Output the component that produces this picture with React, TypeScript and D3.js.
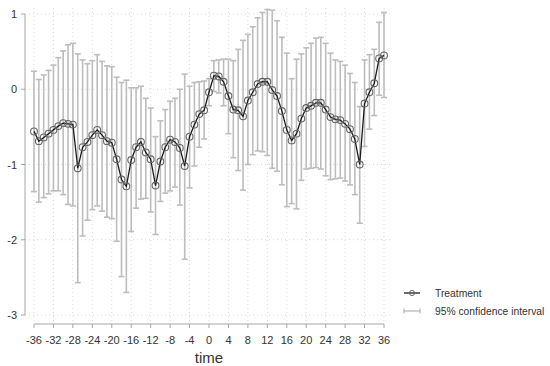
import React from "react";
import * as d3 from "d3";

// Event time relative to treatment
const times: number[] = d3.range(-36, 37);

// Point estimates of the treatment effect
const estimate: number[] = [
  -0.56, -0.69, -0.64, -0.59, -0.54, -0.49, -0.45, -0.46, -0.47, -1.05,
  -0.77, -0.70, -0.61, -0.54, -0.61, -0.69, -0.71, -0.93, -1.20, -1.29,
  -0.94, -0.77, -0.70, -0.84, -0.93, -1.28, -0.96, -0.77, -0.67, -0.70,
  -0.78, -1.02, -0.63, -0.47, -0.33, -0.28, -0.04, 0.18, 0.17, 0.10,
  -0.09, -0.27, -0.28, -0.36, -0.15, -0.04, 0.07, 0.10, 0.10, -0.01,
  -0.09, -0.29, -0.54, -0.68, -0.59, -0.39, -0.25, -0.22, -0.18, -0.18,
  -0.27, -0.37, -0.40, -0.41, -0.46, -0.53, -0.66, -1.00, -0.19, -0.04,
  0.08, 0.41, 0.45,
];

// Upper bound of the 95% confidence interval
const upper: number[] = [
  0.24, 0.13, 0.19, 0.25, 0.32, 0.42, 0.51, 0.59, 0.61, 0.47,
  0.39, 0.34, 0.38, 0.46, 0.37, 0.31, 0.30, 0.16, 0.09, 0.12,
  0.02, 0.02, 0.04, -0.12, -0.25, -0.63, -0.42, -0.27, -0.16, -0.12,
  0.0, 0.20, 0.04, 0.09, 0.10, 0.11, 0.14, 0.38, 0.39, 0.40,
  0.40, 0.38, 0.53, 0.65, 0.73, 0.83, 0.95, 1.02, 1.06, 1.05,
  0.91, 0.69, 0.48, 0.14, 0.40, 0.47, 0.55, 0.61, 0.68, 0.69,
  0.61, 0.48, 0.39, 0.37, 0.32, 0.21, 0.09, -0.23, 0.39, 0.46,
  0.53, 0.89, 1.02,
];

// Lower bound of the 95% confidence interval
const lower: number[] = [
  -1.36, -1.50, -1.44, -1.39, -1.35, -1.35, -1.40, -1.53, -1.55, -2.57,
  -1.95, -1.74, -1.60, -1.55, -1.62, -1.70, -1.72, -2.02, -2.49, -2.70,
  -1.89, -1.58, -1.46, -1.45, -1.63, -1.93, -1.49, -1.38, -1.35, -1.30,
  -1.54, -2.26, -1.31, -1.02, -0.77, -0.66, -0.22, -0.03, -0.05, -0.22,
  -0.59, -0.91, -1.08, -1.34, -1.00, -0.87, -0.82, -0.83, -0.88, -1.05,
  -1.09, -1.27, -1.56, -1.52, -1.59, -1.21, -1.06, -1.05, -1.04, -1.06,
  -1.15, -1.20, -1.19, -1.18, -1.22, -1.27, -1.40, -1.78, -0.76, -0.53,
  -0.35, -0.08, -0.11,
];

const xTicks: number[] = d3.range(-36, 37, 4);
const yTicks: number[] = [-3, -2, -1, 0, 1];
const seriesLabel = "Treatment";
const ciLabel = "95% confidence interval";
const xTitle = "time";

const W = 550;
const H = 366;
const FONT = "'Liberation Sans', Arial, Helvetica, sans-serif";

export default function App() {
  const x = d3.scaleLinear().domain([-36, 36]).range([34, 384]);
  const y = d3.scaleLinear().domain([-3, 1]).range([315, 14]);

  const rows = times.map((t, i) => ({
    t,
    est: estimate[i],
    lo: lower[i],
    hi: upper[i],
  }));

  const line = d3
    .line<{ t: number; est: number }>()
    .x((d) => x(d.t))
    .y((d) => y(d.est));

  const gridLeft = 25;
  const gridRight = 391;
  const gridTop = 8;
  const axisY = 324;
  const axisX = 25;
  const cap = 3;

  const ciColor = "#bdbdbd";
  const ptColor = "#666666";
  const gridColor = "#d9d9d9";
  const axisColor = "#a6a6a6";
  const textColor = "#333333";

  const legX = 404;
  const legY1 = 293;
  const legY2 = 311;
  const legFont = 10.3;

  return (
    <div style={{ position: "absolute", left: 0, top: 0 }}>
      <svg width={W} height={H} style={{ display: "block", background: "#fff" }}>
        {/* grid */}
        <g stroke={gridColor} strokeWidth={1} strokeDasharray="1,3">
          {yTicks.map((v) => (
            <line key={"gy" + v} x1={gridLeft} x2={gridRight} y1={y(v)} y2={y(v)} />
          ))}
          {xTicks.map((v) => (
            <line key={"gx" + v} x1={x(v)} x2={x(v)} y1={gridTop} y2={axisY - 2} />
          ))}
        </g>

        {/* confidence intervals */}
        <g stroke={ciColor} strokeWidth={1.6} fill="none">
          {rows.map((d) => (
            <g key={"ci" + d.t}>
              <line x1={x(d.t)} x2={x(d.t)} y1={y(d.hi)} y2={y(d.lo)} />
              <line x1={x(d.t) - cap} x2={x(d.t) + cap} y1={y(d.hi)} y2={y(d.hi)} />
              <line x1={x(d.t) - cap} x2={x(d.t) + cap} y1={y(d.lo)} y2={y(d.lo)} />
            </g>
          ))}
        </g>

        {/* estimate line and markers */}
        <path d={line(rows) ?? ""} fill="none" stroke="#1a1a1a" strokeWidth={1.3} />
        <g fill="none" stroke={ptColor} strokeWidth={1.1}>
          {rows.map((d) => (
            <circle key={"pt" + d.t} cx={x(d.t)} cy={y(d.est)} r={3.4} />
          ))}
        </g>

        {/* y axis */}
        <g>
          <line x1={axisX} x2={axisX} y1={y(1)} y2={y(-3)} stroke={axisColor} strokeWidth={1} />
          {yTicks.map((v) => (
            <g key={"yt" + v}>
              <line x1={axisX - 4} x2={axisX} y1={y(v)} y2={y(v)} stroke={axisColor} />
              <text
                x={axisX - 8}
                y={y(v)}
                textAnchor="end"
                dominantBaseline="central"
                fontFamily={FONT}
                fontSize={11}
                fill={textColor}
              >
                {v}
              </text>
            </g>
          ))}
        </g>

        {/* x axis */}
        <g>
          <line x1={x(-36)} x2={x(36)} y1={axisY} y2={axisY} stroke={axisColor} strokeWidth={1} />
          {xTicks.map((v) => (
            <g key={"xt" + v}>
              <line x1={x(v)} x2={x(v)} y1={axisY} y2={axisY + 4} stroke={axisColor} />
              <text
                x={x(v)}
                y={axisY + 16}
                textAnchor="middle"
                dominantBaseline="central"
                fontFamily={FONT}
                fontSize={11}
                fill={textColor}
              >
                {v}
              </text>
            </g>
          ))}
          <text
            x={x(0)}
            y={axisY + 33}
            textAnchor="middle"
            dominantBaseline="central"
            fontFamily={FONT}
            fontSize={15}
            fill={textColor}
          >
            {xTitle}
          </text>
        </g>

        {/* legend */}
        <g>
          <line x1={legX} x2={legX + 16} y1={legY1} y2={legY1} stroke="#1a1a1a" strokeWidth={1.3} />
          <circle cx={legX + 8} cy={legY1} r={2.6} fill="none" stroke={ptColor} strokeWidth={1} />
          <text
            x={legX + 31}
            y={legY1}
            dominantBaseline="central"
            fontFamily={FONT}
            fontSize={legFont}
            fill={textColor}
          >
            {seriesLabel}
          </text>
          <g stroke={ciColor} strokeWidth={1.4}>
            <line x1={legX} x2={legX + 16} y1={legY2} y2={legY2} />
            <line x1={legX} x2={legX} y1={legY2 - 2.5} y2={legY2 + 2.5} />
            <line x1={legX + 16} x2={legX + 16} y1={legY2 - 2.5} y2={legY2 + 2.5} />
          </g>
          <text
            x={legX + 31}
            y={legY2}
            dominantBaseline="central"
            fontFamily={FONT}
            fontSize={legFont}
            fill={textColor}
          >
            {ciLabel}
          </text>
        </g>
      </svg>
    </div>
  );
}
